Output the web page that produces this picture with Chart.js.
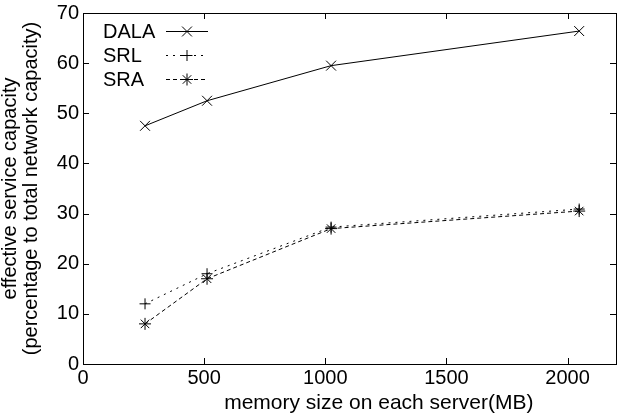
<!DOCTYPE html>
<html><head><meta charset="utf-8">
<script src="https://cdn.jsdelivr.net/npm/chart.js@4/dist/chart.umd.min.js"></script>
<style>html,body{margin:0;padding:0;background:#fff}#wrap{width:624px;height:417px}</style>
</head><body><div id="wrap"><canvas id="c" width="624" height="417"></canvas></div>
<script>
const memorySizes = [256, 512, 1024, 2048];
const dalaValues = [47.5, 52.5, 59.5, 66.4];
const srlValues = [12, 18, 27.3, 30.9];
const sraValues = [8, 17, 27, 30.5];
const seriesNames = ["DALA", "SRL", "SRA"];
const xTickValues = [0, 500, 1000, 1500, 2000];
const xTitle = "memory size on each server(MB)";
const yTitle = ["effective service capacity", "(percentage to total network capacity)"];

const FONT = "'Liberation Sans', Arial, sans-serif";

const frameTicks = {
  id: 'frameTicks',
  afterDatasetsDraw(chart) {
    const {ctx, chartArea: a, scales: {x, y}} = chart;
    ctx.save();
    ctx.strokeStyle = '#000';
    ctx.lineWidth = 1;
    ctx.strokeRect(Math.round(a.left)+0.5, Math.round(a.top)+0.5, Math.round(a.right-a.left), Math.round(a.bottom-a.top));
    ctx.beginPath();
    x.ticks.forEach(t => {
      const px = Math.round(x.getPixelForValue(t.value))+0.5;
      ctx.moveTo(px, a.bottom); ctx.lineTo(px, a.bottom-6);
      ctx.moveTo(px, a.top); ctx.lineTo(px, a.top+6);
    });
    y.ticks.forEach(t => {
      const py = Math.round(y.getPixelForValue(t.value))+0.5;
      ctx.moveTo(a.left, py); ctx.lineTo(a.left+6, py);
      ctx.moveTo(a.right, py); ctx.lineTo(a.right-6, py);
    });
    ctx.stroke();
    // x axis title
    ctx.fillStyle = '#000';
    ctx.font = "21px " + FONT;
    ctx.textAlign = 'center';
    ctx.textBaseline = 'middle';
    ctx.fillText(xTitle, a.left + (a.right - a.left) * 0.555, chart.height - 14);
    // legend
    ctx.font = "20px " + FONT;
    chart.data.datasets.forEach((ds, i) => {
      const ly = a.top + 18 + i * 24;
      ctx.textAlign = 'left';
      ctx.fillText(ds.label, a.left + 20, ly + 1);
      ctx.beginPath();
      ctx.setLineDash(ds.borderDash || []);
      ctx.lineWidth = 1;
      ctx.moveTo(a.left + 83, ly + 0.5); ctx.lineTo(a.left + 125, ly + 0.5);
      ctx.stroke();
      ctx.setLineDash([]);
      Chart.helpers.drawPoint(ctx, {pointStyle: ds.pointStyle, radius: ds.pointRadius, borderWidth: 1}, a.left + 104, ly + 0.5);
    });
    ctx.restore();
  }
};

new Chart(document.getElementById('c'), {
  type: 'line',
  data: {
    datasets: [
      {label: seriesNames[0], data: memorySizes.map((m, i) => ({x: m, y: dalaValues[i]})), borderColor: '#000', backgroundColor: '#000', borderWidth: 1, pointStyle: 'crossRot', pointRadius: 7, pointBorderWidth: 1, borderDash: []},
      {label: seriesNames[1], data: memorySizes.map((m, i) => ({x: m, y: srlValues[i]})), borderColor: '#000', backgroundColor: '#000', borderWidth: 1, pointStyle: 'cross', pointRadius: 5.5, pointBorderWidth: 1, borderDash: [2, 5]},
      {label: seriesNames[2], data: memorySizes.map((m, i) => ({x: m, y: sraValues[i]})), borderColor: '#000', backgroundColor: '#000', borderWidth: 1, pointStyle: 'star', pointRadius: 6, pointBorderWidth: 1, borderDash: [4, 3]}
    ]
  },
  options: {
    responsive: false,
    animation: false,
    devicePixelRatio: 1,
    layout: {padding: {top: 10, right: 7, left: 0, bottom: 0}},
    plugins: {legend: {display: false}, tooltip: {enabled: false}},
    scales: {
      x: {
        type: 'linear', min: 0, max: 2200,
        afterBuildTicks(s) { s.ticks = xTickValues.map(v => ({value: v})); },
        ticks: {color: '#000', font: {family: FONT, size: 20}, padding: 2, maxRotation: 0, callback: v => String(v)},
        grid: {display: false, drawTicks: false},
        border: {display: false},
        title: {display: false},
        afterFit(s) { s.height = 53; }
      },
      y: {
        type: 'linear', min: 0, max: 70,
        ticks: {stepSize: 10, color: '#000', font: {family: FONT, size: 20, lineHeight: 0.9}, padding: 4, callback: v => String(v)},
        grid: {display: false, drawTicks: false},
        border: {display: false},
        title: {display: true, text: yTitle, color: '#000', font: {family: FONT, size: 20, lineHeight: 1.05}, padding: {top: 0, bottom: 4}},
        afterFit(s) { s.width = 83; }
      }
    }
  },
  plugins: [frameTicks]
});
</script></body></html>
